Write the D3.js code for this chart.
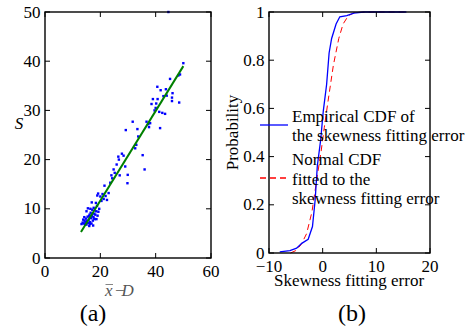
<!DOCTYPE html>
<html>
<head>
<meta charset="utf-8">
<script src="https://cdn.jsdelivr.net/npm/d3@7/dist/d3.min.js"></script>
<style>
  body { margin: 0; background: #fff; }
  svg text { font-family: "Liberation Serif", "DejaVu Serif", serif; }
</style>
</head>
<body>
<svg id="chart" width="476" height="334"></svg>
<script>
// (a) scatter of S vs x-bar minus D, plus fitted line
const scatterPts = [
  [13.2,6.9],[13.6,7.2],[14.0,7.0],[14.3,7.6],[14.6,7.3],[14.8,8.0],[15.0,6.8],[15.2,7.5],
  [15.4,8.4],[15.6,7.1],[15.8,7.8],[16.0,6.5],[16.1,8.8],[16.3,7.3],[16.5,9.2],[16.6,8.1],
  [16.8,7.0],[17.0,8.6],[17.1,9.8],[17.3,7.6],[17.5,8.3],[17.6,10.2],[17.8,9.0],[18.0,7.9],
  [18.2,8.8],[18.4,11.2],[18.5,9.5],[18.8,10.6],[19.0,8.6],[19.3,9.4],[19.6,10.0],[15.0,9.5],
  [14.2,8.3],[16.9,11.3],[13.8,7.8],[15.5,10.1],[17.4,6.6],[18.9,12.7],[19.2,13.1],[16.2,6.9],
  [14.5,6.8],[15.9,8.5],[17.7,8.0],[16.4,10.0],[18.6,7.9],
  [20.0,12.5],[20.4,11.6],[20.8,13.0],[21.2,12.0],[21.5,14.7],[21.9,12.6],[22.4,11.8],[23.0,13.2],
  [23.6,15.3],[24.3,16.2],[24.8,18.0],[25.2,17.3],[25.9,19.0],[26.5,20.6],[26.7,20.0],[27.0,16.8],
  [27.8,21.2],[28.4,20.8],[29.0,18.6],[29.2,26.0],[29.9,16.9],[29.8,15.2],[24.0,16.8],
  [31.7,27.7],[32.6,22.3],[33.4,26.2],[33.7,24.7],[33.0,23.0],[35.3,20.9],[36.0,18.0],[36.7,27.7],
  [37.3,27.2],[37.6,26.6],[38.0,27.4],[38.5,31.3],[39.0,32.3],[40.0,30.5],[40.2,31.4],[40.6,34.8],
  [40.7,32.3],[41.3,29.7],[41.6,26.4],[41.8,34.1],[42.4,29.5],[42.8,32.9],[43.4,29.3],[43.7,34.3],
  [45.2,36.4],[45.9,32.6],[45.9,31.9],[46.1,33.5],[48.2,37.1],[48.5,31.6],[48.8,37.3],[50.0,39.6],
  [44.6,50.0],[44.0,33.0],[39.6,30.0]
];
const fitX = [13, 50];
const fitY = [5.3, 39.0];
const aXTicks = [0, 20, 40, 60];
const aYTicks = [0, 10, 20, 30, 40, 50];

// (b) CDFs of the skewness fitting error
const empX = [-8.0, -6.1, -4.85, -3.9, -2.7, -1.9, -1.4, -1.0, -0.37, 0.12, 0.74, 1.2, 1.67, 2.5, 3.2, 4.5, 5.8, 7.6, 15.6];
const empY = [0.005, 0.01, 0.02, 0.04, 0.057, 0.11, 0.22, 0.36, 0.47, 0.59, 0.70, 0.83, 0.89, 0.95, 0.98, 0.985, 0.995, 1.0, 1.0];
const normX = [-6.0, -5.0, -4.0, -3.0, -2.0, -1.0, -0.3, 0.3, 1.0, 2.0, 3.0, 3.8, 4.8, 6.0, 10, 16];
const normY = [0.0, 0.01, 0.035, 0.08, 0.17, 0.32, 0.42, 0.52, 0.63, 0.78, 0.89, 0.95, 0.985, 0.998, 1.0, 1.0];
const bXTicks = [-10, 0, 10, 20];
const bYTicks = [0, 0.2, 0.4, 0.6, 0.8, 1];

const svg = d3.select("#chart");
const tickLen = 5;
const fs = 17;

function drawFrame(g, x, y, xTicks, yTicks, yFmt) {
  const [x0, x1] = x.range();
  const [y0, y1] = y.range();
  g.append("rect")
    .attr("x", x0).attr("y", y1)
    .attr("width", x1 - x0).attr("height", y0 - y1)
    .attr("fill", "none").attr("stroke", "#000").attr("stroke-width", 1.4);
  // inward ticks on all four sides
  xTicks.forEach(t => {
    g.append("line").attr("x1", x(t)).attr("x2", x(t)).attr("y1", y0).attr("y2", y0 - tickLen).attr("stroke", "#000");
    g.append("line").attr("x1", x(t)).attr("x2", x(t)).attr("y1", y1).attr("y2", y1 + tickLen).attr("stroke", "#000");
    g.append("text").attr("x", x(t)).attr("y", y0 + 18.5).attr("text-anchor", "middle")
      .attr("font-size", fs).text(t < 0 ? "\u2212" + Math.abs(t) : t);
  });
  yTicks.forEach(t => {
    g.append("line").attr("x1", x0).attr("x2", x0 + tickLen).attr("y1", y(t)).attr("y2", y(t)).attr("stroke", "#000");
    g.append("line").attr("x1", x1).attr("x2", x1 - tickLen).attr("y1", y(t)).attr("y2", y(t)).attr("stroke", "#000");
    g.append("text").attr("x", x0 - 4.5).attr("y", y(t) + 5.6).attr("text-anchor", "end")
      .attr("font-size", fs).text(yFmt(t));
  });
}

// ---- panel (a)
const xa = d3.scaleLinear().domain([0, 60]).range([45, 211]);
const ya = d3.scaleLinear().domain([0, 50]).range([258, 12]);
const ga = svg.append("g");

ga.append("g").selectAll("rect")
  .data(scatterPts)
  .join("rect")
  .attr("x", d => xa(d[0]) - 1.2)
  .attr("y", d => ya(d[1]) - 1.2)
  .attr("width", 2.4).attr("height", 2.4)
  .attr("fill", "#0000ff");

ga.append("path")
  .datum(d3.zip(fitX, fitY))
  .attr("d", d3.line().x(d => xa(d[0])).y(d => ya(d[1])))
  .attr("fill", "none").attr("stroke", "#008000").attr("stroke-width", 2);

drawFrame(ga, xa, ya, aXTicks, aYTicks, d => d);

ga.append("text").attr("x", 19).attr("y", 128.5).attr("text-anchor", "middle")
  .attr("font-size", fs).attr("font-style", "italic").text("S");

// x-bar minus D label
const xlab = ga.append("text").attr("x", 105).attr("y", 295.5)
  .attr("font-size", fs).attr("font-style", "italic").attr("fill", "#555");
xlab.append("tspan").text("x");
xlab.append("tspan").attr("dx", 1.5).text("\u2212");
xlab.append("tspan").attr("dx", -4).text("D");
ga.append("line").attr("x1", 105.5).attr("x2", 113).attr("y1", 284.5).attr("y2", 284.5)
  .attr("stroke", "#777").attr("stroke-width", 0.9);

ga.append("text").attr("x", 93).attr("y", 321).attr("text-anchor", "middle")
  .attr("font-size", 24).text("(a)");

// ---- panel (b)
const xb = d3.scaleLinear().domain([-10, 20]).range([269, 430]);
const yb = d3.scaleLinear().domain([0, 1]).range([253, 12]);
const gb = svg.append("g");

const lineB = d3.line().x(d => xb(d[0])).y(d => yb(d[1]));
gb.append("path")
  .datum(d3.zip(normX, normY))
  .attr("d", lineB)
  .attr("fill", "none").attr("stroke", "#ff0000").attr("stroke-width", 1)
  .attr("stroke-dasharray", "6,4");
gb.append("path")
  .datum(d3.zip(empX, empY))
  .attr("d", lineB)
  .attr("fill", "none").attr("stroke", "#0000ff").attr("stroke-width", 1.3);

drawFrame(gb, xb, yb, bXTicks, bYTicks, d => d3.format("~g")(d));

gb.append("text")
  .attr("transform", `translate(238,${(12 + 253) / 2}) rotate(-90)`)
  .attr("text-anchor", "middle").attr("font-size", fs).text("Probability");

gb.append("text").attr("x", 349).attr("y", 286).attr("text-anchor", "middle")
  .attr("font-size", fs).text("Skewness fitting error");

gb.append("text").attr("x", 352).attr("y", 321).attr("text-anchor", "middle")
  .attr("font-size", 24).text("(b)");

// legend (no box)
const legend = [
  { lines: ["Empirical CDF of", "the skewness fitting error"], color: "#0000ff", dash: null, top: 121.5, mark: 125 },
  { lines: ["Normal CDF", "fitted to the", "skewness fitting error"], color: "#ff0000", dash: "6,4", top: 165, mark: 178 }
];
legend.forEach(item => {
  gb.append("line").attr("x1", 260).attr("x2", 288).attr("y1", item.mark).attr("y2", item.mark)
    .attr("stroke", item.color).attr("stroke-width", 1.3)
    .attr("stroke-dasharray", item.dash);
  item.lines.forEach((s, i) => {
    gb.append("text").attr("x", 292).attr("y", item.top + i * 19.5)
      .attr("font-size", fs).text(s);
  });
});
</script>
</body>
</html>
